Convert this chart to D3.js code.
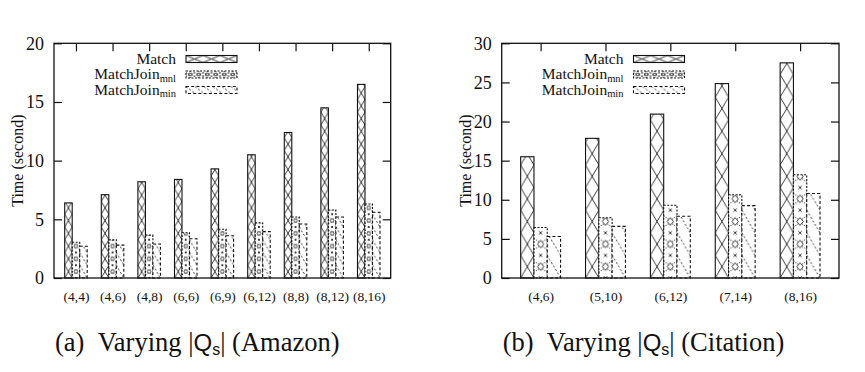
<!DOCTYPE html>
<html>
<head>
<meta charset="utf-8">
<script src="https://cdn.jsdelivr.net/npm/d3@7"></script>
<style>
  body { margin: 0; background: #fff; }
  svg { display: block; }
  text { font-family: "Liberation Serif", "DejaVu Serif", serif; fill: #111; }
</style>
</head>
<body>
<svg id="chart" width="865" height="372"></svg>
<script>
// Amazon panel
const amazonCats = ["(4,4)", "(4,6)", "(4,8)", "(6,6)", "(6,9)", "(6,12)", "(8,8)", "(8,12)", "(8,16)"];
const amazonMatch = [6.4, 7.1, 8.2, 8.4, 9.3, 10.5, 12.4, 14.5, 16.5];
const amazonMnl = [3.05, 3.25, 3.65, 3.85, 4.15, 4.7, 5.2, 5.8, 6.3];
const amazonMin = [2.7, 2.8, 2.9, 3.35, 3.6, 3.95, 4.6, 5.2, 5.6];
const amazonTicks = [0, 5, 10, 15, 20];

// Citation panel
const citationCats = ["(4,6)", "(5,10)", "(6,12)", "(7,14)", "(8,16)"];
const citationMatch = [15.5, 17.85, 20.95, 24.85, 27.5];
const citationMnl = [6.45, 7.7, 9.3, 10.65, 13.2];
const citationMin = [5.3, 6.6, 7.9, 9.25, 10.8];
const citationTicks = [0, 5, 10, 15, 20, 25, 30];

const seriesNames = ["Match", "MatchJoin", "MatchJoin"];
const seriesSubs = ["", "mnl", "min"];

const svg = d3.select("#chart");
const defs = svg.append("defs");

// pattern tiles: kind 0 = big X, 1 = dashed diamonds, 2 = sparse dashed diagonals
function makePattern(id, w, h, kind) {
  const p = defs.append("pattern")
    .attr("id", id)
    .attr("patternUnits", "userSpaceOnUse")
    .attr("width", w)
    .attr("height", h);
  p.append("rect").attr("width", w).attr("height", h).attr("fill", "#fff");
  const line = (x1, y1, x2, y2, dash) => p.append("line")
    .attr("x1", x1).attr("y1", y1).attr("x2", x2).attr("y2", y2)
    .attr("stroke", "#222").attr("stroke-width", 0.9)
    .attr("stroke-dasharray", dash || null);
  if (kind === 0) {
    line(0, 0, w, h);
    line(w, 0, 0, h);
  } else if (kind === 1) {
    const cx = w / 2, cy = h / 2, dx = w * 0.24, dy = h * 0.17;
    p.append("path")
      .attr("d", `M${cx},${cy - dy}L${cx + dx},${cy}L${cx},${cy + dy}L${cx - dx},${cy}Z`)
      .attr("fill", "none").attr("stroke", "#222").attr("stroke-width", 0.9);
    const s = w * 0.12;
    [0, h].forEach(y => {
      line(cx - s, y - s, cx + s, y + s);
      line(cx + s, y - s, cx - s, y + s);
    });
    line(0, h * 0.25, cx - dx * 0.6, cy - dy * 0.6, "1.2,1.2");
    line(w, h * 0.25, cx + dx * 0.6, cy - dy * 0.6, "1.2,1.2");
    line(0, h * 0.75, cx - dx * 0.6, cy + dy * 0.6, "1.2,1.2");
    line(w, h * 0.75, cx + dx * 0.6, cy + dy * 0.6, "1.2,1.2");
  } else {
    line(0, 0, w, h, "2,2");
  }
}

function drawPanel(opts) {
  const { cats, series, ticks, yMax, x0, x1, yTop, yBot, id, caption } = opts;
  const g = svg.append("g");
  const n = cats.length;

  const x = d3.scaleLinear().domain([-0.6, n - 0.4]).range([x0, x1]);
  const y = d3.scaleLinear().domain([0, yMax]).range([yBot, yTop]);
  const bw = (x(1) - x(0)) * 0.205;
  const th = bw * 1.7;

  for (let k = 0; k < 3; k++) makePattern(`${id}-p${k}`, bw, th, k);
  makePattern(`${id}-l0`, 17, 7, 0);
  makePattern(`${id}-l1`, 8.5, 7, 1);
  makePattern(`${id}-l2`, 9, 7, 2);

  const borderDash = [null, "2,1.5", "3,2.2"];

  // bars
  series.forEach((vals, k) => {
    g.selectAll(`.bar${k}`)
      .data(vals)
      .join("g")
      .attr("transform", (d, i) => `translate(${x(i) - 1.5 * bw + k * bw},${y(0)})`)
      .each(function (d) {
        const h = y(0) - y(d);
        const bar = d3.select(this);
        bar.append("rect")
          .attr("x", 0).attr("y", -h)
          .attr("width", bw).attr("height", h)
          .attr("fill", `url(#${id}-p${k})`);
        bar.append("rect")
          .attr("x", 0).attr("y", -h)
          .attr("width", bw).attr("height", h)
          .attr("fill", "none")
          .attr("stroke", "#111")
          .attr("stroke-width", 1.1)
          .attr("stroke-dasharray", borderDash[k]);
      });
  });

  // frame
  g.append("rect")
    .attr("x", x0).attr("y", yTop)
    .attr("width", x1 - x0).attr("height", yBot - yTop)
    .attr("fill", "none").attr("stroke", "#111").attr("stroke-width", 1.3);

  // y axis with mirrored ticks
  const yAxis = d3.axisLeft(y).tickValues(ticks).tickSize(-8).tickPadding(10);
  g.append("g").attr("transform", `translate(${x0},0)`).call(yAxis)
    .call(a => a.select(".domain").remove())
    .call(a => a.selectAll("text")
      .attr("font-size", 18).attr("font-family", "Liberation Serif").attr("fill", "#111"));
  g.append("g").attr("transform", `translate(${x1},0)`)
    .call(d3.axisRight(y).tickValues(ticks).tickSize(-8).tickFormat(""))
    .call(a => a.select(".domain").remove());

  // x axis: labels below, ticks on top edge
  const xAxis = d3.axisBottom(x).tickValues(d3.range(n)).tickFormat(i => cats[i]).tickSize(0).tickPadding(13);
  g.append("g").attr("transform", `translate(0,${yBot})`).call(xAxis)
    .call(a => a.select(".domain").remove())
    .call(a => a.selectAll("text")
      .attr("font-size", 13.5).attr("font-family", "Liberation Serif").attr("fill", "#111"));
  g.append("g").attr("transform", `translate(0,${yTop})`)
    .call(d3.axisTop(x).tickValues(d3.range(n)).tickSize(-8).tickFormat(""))
    .call(a => a.select(".domain").remove());
  g.selectAll(".tick line").attr("stroke", "#111").attr("stroke-width", 1.2);

  // y label
  g.append("text")
    .attr("transform", `translate(${x0 - 31},${(yTop + yBot) / 2}) rotate(-90)`)
    .attr("text-anchor", "middle")
    .attr("font-size", 16)
    .text("Time (second)");

  // legend
  const legX = opts.legX;
  const legRows = [59, 74.5, 90];
  seriesNames.forEach((name, k) => {
    const t = g.append("text")
      .attr("x", legX).attr("y", legRows[k] + 4.5)
      .attr("text-anchor", "end")
      .attr("font-size", 15.5);
    t.append("tspan").text(name);
    if (seriesSubs[k]) {
      t.append("tspan").attr("dy", 2.5).attr("font-size", 10.5).text(seriesSubs[k]);
    }
    g.append("g")
      .attr("transform", `translate(${legX + 10},${legRows[k] - 3.5})`)
      .call(b => {
        b.append("rect").attr("width", 51).attr("height", 7).attr("fill", `url(#${id}-l${k})`);
        b.append("rect").attr("width", 51).attr("height", 7)
          .attr("fill", "none").attr("stroke", "#111").attr("stroke-width", 1.1)
          .attr("stroke-dasharray", borderDash[k]);
      });
  });

  // caption
  const c = g.append("text")
    .attr("x", x0 + 1).attr("y", 351)
    .attr("font-size", 26.5);
  c.append("tspan").text(`(${caption[0]})\u00a0\u00a0Varying |`);
  c.append("tspan").attr("font-family", "Liberation Sans").attr("font-size", 24).text("Q");
  c.append("tspan").attr("font-family", "Liberation Sans").attr("font-size", 16).attr("dy", 4).text("s");
  c.append("tspan").attr("dy", -4).text(`| (${caption[1]})`);
}

drawPanel({
  id: "amz", cats: amazonCats, series: [amazonMatch, amazonMnl, amazonMin],
  ticks: amazonTicks, yMax: 20, x0: 54, x1: 390.7, yTop: 43.3, yBot: 278,
  legX: 176, caption: ["a", "Amazon"]
});
drawPanel({
  id: "cit", cats: citationCats, series: [citationMatch, citationMnl, citationMin],
  ticks: citationTicks, yMax: 30, x0: 501.7, x1: 839, yTop: 43.3, yBot: 278,
  legX: 623.5, caption: ["b", "Citation"]
});
</script>
</body>
</html>
